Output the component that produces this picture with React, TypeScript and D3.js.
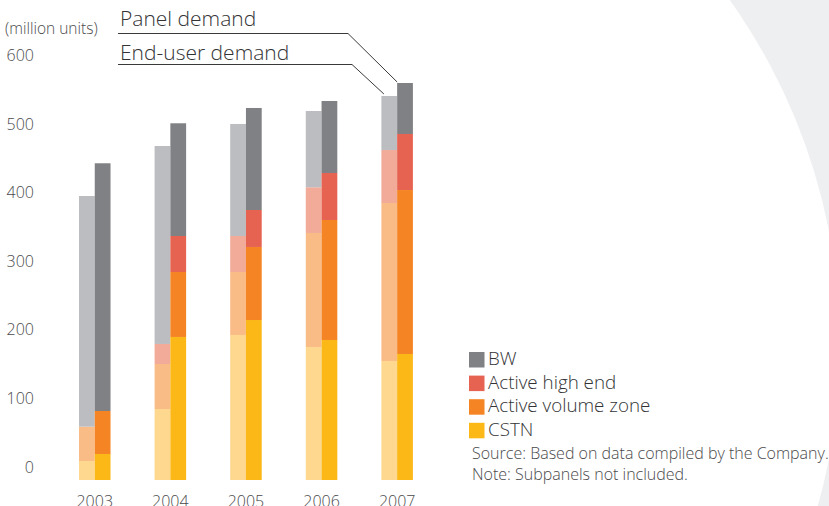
import React from "react";
import * as d3 from "d3";

const years = ["2003", "2004", "2005", "2006", "2007"];
const seriesNames = ["CSTN", "Active volume zone", "Active high end", "BW"];
const yTicks = [0, 100, 200, 300, 400, 500, 600];

// End-user demand (light bars), per segment
const endCSTN = [27.7, 103.5, 211.4, 193.9, 173.5];
const endAVZ = [50.0, 65.6, 91.8, 166.2, 230.3];
const endAHE = [0, 29.2, 52.5, 66.6, 77.2];
const endBW = [336.3, 288.6, 163.3, 111.2, 78.8];

// Panel demand (dark bars), per segment
const panCSTN = [37.9, 208.5, 233.2, 204.1, 183.7];
const panAVZ = [62.7, 94.7, 106.5, 174.9, 239.0];
const panAHE = [0, 52.5, 53.9, 68.5, 81.7];
const panBW = [361.1, 164.3, 148.7, 105.0, 74.3];

const darkColors = ["#fbb817", "#f58524", "#e66352", "#808184"];
const lightColors = ["#fed88f", "#fabc87", "#f2ab98", "#bcbdc0"];

const legendItems = ["BW", "Active high end", "Active volume zone", "CSTN"];
const legendColors = ["#808184", "#e66352", "#f58524", "#fbb817"];

const FONT = "'Open Sans', Lato, sans-serif";
const TXT = "#4a4a4c";

function buildRows(a: number[], b: number[], c: number[], d: number[]) {
  return years.map((yr, i) => ({
    year: yr,
    CSTN: a[i],
    "Active volume zone": b[i],
    "Active high end": c[i],
    BW: d[i],
  }));
}

export default function App() {
  const W = 829;
  const H = 506;

  const y = d3.scaleLinear().domain([0, 600]).range([480, 68.4]);
  const x = d3
    .scaleBand<string>()
    .domain(years)
    .range([41.2, 450.7])
    .paddingInner(0.583)
    .paddingOuter(0.5);
  const xi = d3
    .scaleBand<string>()
    .domain(["end", "panel"])
    .range([0, x.bandwidth()]);

  const stack = d3.stack<any>().keys(seriesNames);
  const endStack = stack(buildRows(endCSTN, endAVZ, endAHE, endBW));
  const panStack = stack(buildRows(panCSTN, panAVZ, panAHE, panBW));

  const lastYear = years[years.length - 1];
  const endTop = y(endStack[3][4][1]);
  const panTop = y(panStack[3][4][1]);
  const endX = (x(lastYear) as number) + (xi("end") as number);
  const panX = (x(lastYear) as number) + (xi("panel") as number);

  return (
    <svg
      width={W}
      height={H}
      style={{ position: "absolute", left: 0, top: 0, background: "#fff" }}
    >
      <rect x={0} y={0} width={W} height={H} fill="#eeeff1" />
      <circle cx={245} cy={345} r={595} fill="#ffffff" />

      {/* y axis labels */}
      <text x={5} y={30} fontFamily={FONT} fontWeight={300} fontSize={15.5} fill={TXT} dominantBaseline="middle">
        (million units)
      </text>
      {yTicks.map((t) => (
        <text
          key={t}
          x={34}
          y={y(t) - 11.7}
          textAnchor="end"
          dominantBaseline="middle"
          fontFamily={FONT}
          fontWeight={300}
          fontSize={16}
          fill={TXT}
        >
          {t}
        </text>
      ))}

      {/* bars */}
      {endStack.map((s, si) =>
        s.map((d, i) => (
          <rect
            key={`e${si}-${i}`}
            x={(x(years[i]) as number) + (xi("end") as number)}
            y={y(d[1])}
            width={xi.bandwidth()}
            height={Math.max(0, y(d[0]) - y(d[1]))}
            fill={lightColors[si]}
          />
        ))
      )}
      {panStack.map((s, si) =>
        s.map((d, i) => (
          <rect
            key={`p${si}-${i}`}
            x={(x(years[i]) as number) + (xi("panel") as number)}
            y={y(d[1])}
            width={xi.bandwidth()}
            height={Math.max(0, y(d[0]) - y(d[1]))}
            fill={darkColors[si]}
          />
        ))
      )}

      {/* x labels */}
      {years.map((yr) => (
        <text
          key={yr}
          x={(x(yr) as number) + x.bandwidth() / 2}
          y={502.5}
          textAnchor="middle"
          dominantBaseline="middle"
          fontFamily={FONT}
          fontWeight={300}
          fontSize={16}
          fill={TXT}
        >
          {yr}
        </text>
      ))}

      {/* callouts */}
      <text x={120} y={20} dominantBaseline="middle" fontFamily={FONT} fontWeight={300} fontSize={21} fill="#333335">
        Panel demand
      </text>
      <text x={120} y={54} dominantBaseline="middle" fontFamily={FONT} fontWeight={300} fontSize={21} fill="#333335">
        End-user demand
      </text>
      <polyline
        points={`118,33.5 348,33.5 ${panX},${panTop - 1}`}
        fill="none"
        stroke="#3a3a3c"
        strokeWidth={1}
      />
      <polyline
        points={`118,64.5 352,64.5 ${endX + 2.5},${endTop - 2}`}
        fill="none"
        stroke="#3a3a3c"
        strokeWidth={1}
      />

      {/* legend */}
      {legendItems.map((name, i) => (
        <g key={name} transform={`translate(469, ${352 + i * 23.6})`}>
          <rect x={0} y={0} width={15.5} height={15.5} fill={legendColors[i]} />
          <text
            x={19}
            y={8}
            dominantBaseline="middle"
            fontFamily={FONT}
            fontWeight={300}
            fontSize={18.8}
            fill="#333335"
          >
            {name}
          </text>
        </g>
      ))}
      <text x={472} y={455} dominantBaseline="middle" fontFamily={FONT} fontWeight={300} fontSize={16} fill={TXT}>
        Source: Based on data compiled by the Company.
      </text>
      <text x={472} y={476} dominantBaseline="middle" fontFamily={FONT} fontWeight={300} fontSize={16} fill={TXT}>
        Note: Subpanels not included.
      </text>
    </svg>
  );
}
